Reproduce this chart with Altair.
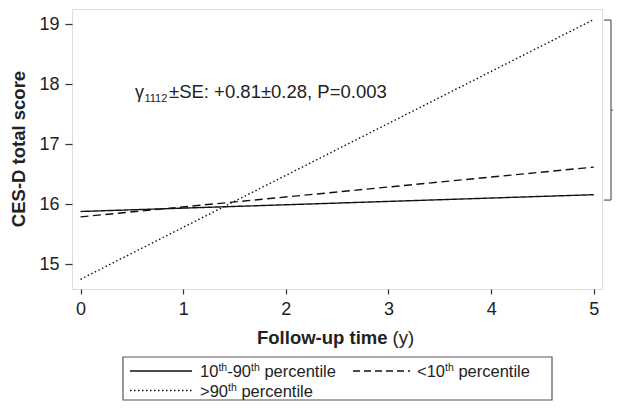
import altair as alt
import pandas as pd

# ---------------- data ----------------
times = [0, 5]
series = ["10th-90th percentile", "<10th percentile", ">90th percentile"]
mid_vals = [15.88, 16.16]     # 10th-90th percentile (solid)
low_vals = [15.79, 16.62]     # <10th percentile (dashed)
high_vals = [14.75, 19.08]    # >90th percentile (dotted)
x_ticks = [0, 1, 2, 3, 4, 5]
y_ticks = [15, 16, 17, 18, 19]
bracket_top, bracket_mid, bracket_bottom = 19.07, 17.57, 16.07
y_title = "CES-D total score"
x_title_bold = "Follow-up time"
x_title_rest = "(y)"
annot = ["γ", "1112", "±SE: +0.81±0.28, P=0.003"]

rows = []
for name, vals in zip(series, [mid_vals, low_vals, high_vals]):
    for t, v in zip(times, vals):
        rows.append({"group": name, "time": t, "score": v})
df = pd.DataFrame(rows)

FONT = "Liberation Sans"
TXT = "#222222"
INK = "#111111"
OX, OY = 72, 9          # page position of plot origin
W, H = 530, 280
TOTAL_W, TOTAL_H = 605, 393
dash_range = [[1, 0], [8, 4.5], [1.5, 2.5]]

xs = alt.Scale(domain=[-0.083, 5.08], nice=False, zero=False)
ys = alt.Scale(domain=[14.588, 19.255], nice=False, zero=False)

lines = alt.Chart(df).mark_line(color=INK, strokeWidth=1.4).encode(
    x=alt.X("time:Q", scale=xs,
            axis=alt.Axis(values=x_ticks, title=None, grid=False, domain=False,
                          tickSize=5, tickColor="#333", tickWidth=1.2,
                          labelFont=FONT, labelFontSize=18, labelColor=TXT,
                          labelPadding=6, labelFlush=False, format="d")),
    y=alt.Y("score:Q", scale=ys,
            axis=alt.Axis(values=y_ticks, title=None, grid=False, domain=False,
                          tickSize=7, tickColor="#333", tickWidth=1.2,
                          labelFont=FONT, labelFontSize=18, labelColor=TXT,
                          labelPadding=6, format="d")),
    strokeDash=alt.StrokeDash("group:N", scale=alt.Scale(domain=series, range=dash_range),
                              legend=None),
    detail="group:N",
)

one = alt.InlineData(values=[{"k": 0}])


def txt(s, px, py, size=18, weight="normal", angle=0, align="left", baseline="alphabetic"):
    return alt.Chart(one).mark_text(
        text=s, font=FONT, fontSize=size, fontWeight=weight, color=TXT,
        align=align, baseline=baseline, angle=angle,
    ).encode(x=alt.value(px - OX), y=alt.value(py - OY))


def seg(px1, px2, py, dash, color=INK, width=1.4):
    return alt.Chart(one).mark_rule(color=color, strokeWidth=width, strokeDash=dash).encode(
        x=alt.value(px1 - OX), x2=alt.value(px2 - OX), y=alt.value(py - OY))


layers = [lines]

# annotation
layers.append(txt(annot[0], 135, 98, 18))
layers.append(txt(annot[1], 144.5, 102, 11))
layers.append(txt(annot[2], 169, 98, 18.5))

# y title
layers.append(txt(y_title, 19, 149, 18.5, "bold", angle=270, align="center", baseline="middle"))
# x title
layers.append(txt(x_title_bold, 257, 344, 18.5, "bold"))
layers.append(txt(x_title_rest, 392.5, 344, 18.5))

# bracket (kept inside the drawable page width)
BR = "#666666"
BX = 611
layers.append(alt.Chart(one).mark_rule(color=BR, strokeWidth=1.3).encode(
    x=alt.value(BX - OX), y=alt.datum(bracket_top), y2=alt.datum(bracket_bottom)))
for yv in [bracket_top, bracket_bottom]:
    layers.append(alt.Chart(one).mark_rule(color=BR, strokeWidth=1.3).encode(
        x=alt.value(BX - 7 - OX), x2=alt.value(BX - OX), y=alt.datum(yv)))
layers.append(alt.Chart(one).mark_rule(color=BR, strokeWidth=1.3).encode(
    x=alt.value(BX - OX), x2=alt.value(BX + 3 - OX), y=alt.datum(bracket_mid)))

# legend box
layers.append(alt.Chart(one).mark_rect(fill="white", stroke="#555", strokeWidth=1.2).encode(
    x=alt.value(123 - OX), x2=alt.value(552 - OX), y=alt.value(357 - OY), y2=alt.value(400 - OY)))
r1, r2 = 371, 390.5
layers.append(seg(130, 192, r1, dash_range[0]))
layers.append(seg(353, 410, r1, [7, 4]))
layers.append(seg(130, 192, r2, dash_range[2]))
LS, SS = 16.5, 10.5
SP = 0.278 * LS
b1, b2 = r1 + 6, r2 + 6
# row 1 label 1: 10th-90th percentile
layers.append(txt("10", 200, b1, LS))
layers.append(txt("th", 218.4, b1 - 6, SS))
layers.append(txt("-90", 227.2, b1, LS))
layers.append(txt("th", 251.0, b1 - 6, SS))
layers.append(txt("percentile", 259.8 + SP, b1, LS))
# row 1 label 2: <10th percentile
layers.append(txt("<10", 417, b1, LS))
layers.append(txt("th", 445.0, b1 - 6, SS))
layers.append(txt("percentile", 453.8 + SP, b1, LS))
# row 2 label: >90th percentile
layers.append(txt(">90", 200, b2, LS))
layers.append(txt("th", 228.0, b2 - 6, SS))
layers.append(txt("percentile", 236.8 + SP, b2, LS))

chart = alt.layer(*layers).properties(
    width=W, height=H,
    autosize=alt.AutoSizeParams(type="none"),
    padding={"left": OX - 8, "top": OY - 8,
             "right": TOTAL_W - W - (OX - 8), "bottom": TOTAL_H - H - (OY - 8)},
).configure_view(stroke="#333", strokeWidth=1.3).configure(background="white")

chart.save("out.html", embed_options={"renderer": "svg", "actions": False})
